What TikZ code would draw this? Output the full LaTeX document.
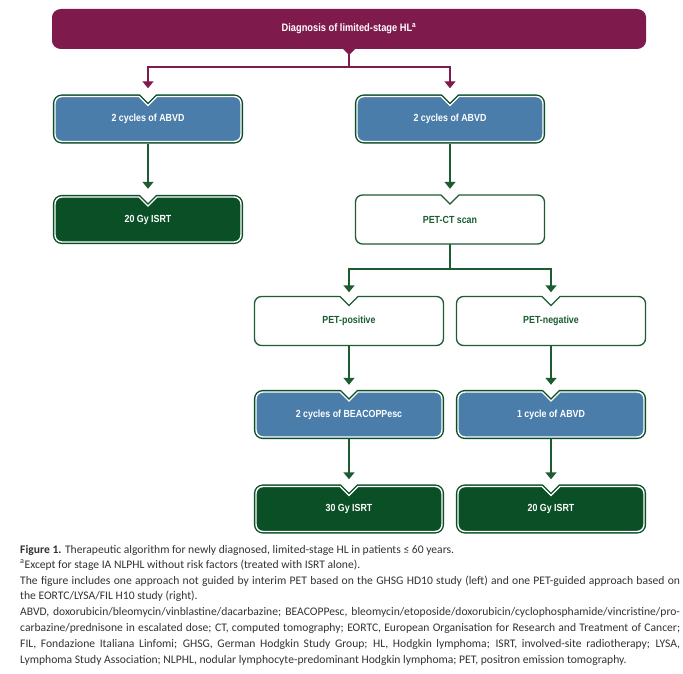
\documentclass[tikz,border=0pt]{standalone}
\usepackage{fontspec}
\setmainfont{Carlito}
\newfontfamily\boxfont[FakeStretch=0.86]{Liberation Sans}
\usetikzlibrary{arrows.meta}
\definecolor{maroon}{HTML}{7F1A4C}
\definecolor{boxblue}{HTML}{4B7DAA}
\definecolor{dkgreen}{HTML}{0B4F26}
\definecolor{lngreen}{HTML}{1C5C30}
\definecolor{captext}{HTML}{333333}
% notched rounded box path: cx, cy, half width, half height (corner radius 7, notch 9)
\newcommand\notchpath[4]{(#1-#3,#2) -- (#1-#3,#2-#4+7) .. controls (#1-#3,#2-#4+3.1) and (#1-#3+3.1,#2-#4) .. (#1-#3+7,#2-#4) -- (#1-9,#2-#4) -- (#1,#2-#4+9) -- (#1+9,#2-#4) -- (#1+#3-7,#2-#4) .. controls (#1+#3-3.1,#2-#4) and (#1+#3,#2-#4+3.1) .. (#1+#3,#2-#4+7) -- (#1+#3,#2+#4-7) .. controls (#1+#3,#2+#4-3.1) and (#1+#3-3.1,#2+#4) .. (#1+#3-7,#2+#4) -- (#1-#3+7,#2+#4) .. controls (#1-#3+3.1,#2+#4) and (#1-#3,#2+#4-3.1) .. (#1-#3,#2+#4-7) -- cycle}
% filled box with green/white border: name, cx, cy, fill, text
\newcommand\filledbox[5]{%
  \draw[dkgreen, line width=4.2pt] \notchpath{#2}{#3}{93}{22.5};
  \fill[#4] \notchpath{#2}{#3}{93}{22.5};
  \draw[white, line width=1.4pt] \notchpath{#2}{#3}{93}{22.5};
  \node[btext] (#1) at (#2,#3) {#5};}
% white box with green outline
\newcommand\whitebox[4]{%
  \draw[lngreen, line width=1.3pt, fill=white] \notchpath{#2}{#3}{94.5}{24.5};
  \node[wtext] (#1) at (#2,#3) {#4};}
\tikzset{
  btext/.style={text=white, font=\boxfont\bfseries\fontsize{10.3}{12}\selectfont, minimum width=190pt, minimum height=49pt, inner sep=0pt},
  wtext/.style={btext, text=lngreen},
  gline/.style={draw=lngreen, line width=1.4pt},
  garrow/.style={gline, -{Triangle[width=11pt,length=7pt]}},
  mline/.style={draw=maroon, line width=1.4pt},
  marrow/.style={mline, -{Triangle[width=11pt,length=7pt]}},
  captxt/.style={font=\fontsize{11.6}{13}\selectfont, text=captext, inner sep=0pt, anchor=base west},
}
\begin{document}
\begin{tikzpicture}[x=1pt,y=-1pt]
\useasboundingbox (0,0) rectangle (683,674);
\fill[white] (0,0) rectangle (683,674);
% top box
\fill[maroon] (52,29) -- (52,17) .. controls (52,12.5) and (56.5,9) .. (61,9) -- (637,9) .. controls (641.5,9) and (646,12.5) .. (646,17) -- (646,41) .. controls (646,45.5) and (641.5,49) .. (637,49) -- (355,49) -- (349,55) -- (343,49) -- (61,49) .. controls (56.5,49) and (52,45.5) .. (52,41) -- cycle;
\node[btext, font=\boxfont\bfseries\fontsize{10.8}{12}\selectfont, minimum width=594pt, minimum height=40pt] (top) at (349,29) {Diagnosis of limited-stage HL\textsuperscript{a}};
% boxes
\filledbox{abvdL}{148}{119}{boxblue}{2 cycles of ABVD}
\filledbox{isrtL}{148}{219.5}{dkgreen}{20 Gy ISRT}
\filledbox{abvdR}{450}{119}{boxblue}{2 cycles of ABVD}
\whitebox{petct}{450}{219.5}{PET-CT scan}
\whitebox{petpos}{349}{321}{PET-positive}
\whitebox{petneg}{551}{321}{PET-negative}
\filledbox{beac}{349}{414.5}{boxblue}{2 cycles of BEACOPPesc}
\filledbox{abvd1}{551}{414.5}{boxblue}{1 cycle of ABVD}
\filledbox{isrt30}{349}{509}{dkgreen}{30 Gy ISRT}
\filledbox{isrt20}{551}{509}{dkgreen}{20 Gy ISRT}
% connectors
\coordinate (j1) at (349,67);
\draw[mline] (top.south) -- (j1);
\draw[marrow] (j1) -| ([yshift=6pt]abvdL.north);
\draw[marrow] (j1) -| ([yshift=6pt]abvdR.north);
\draw[garrow] (abvdL.south) -- ([yshift=6pt]isrtL.north);
\draw[garrow] (abvdR.south) -- ([yshift=6pt]petct.north);
\coordinate (j2) at (450,269);
\draw[gline] (petct.south) -- (j2);
\draw[garrow] (j2) -| ([yshift=4pt]petpos.north);
\draw[garrow] (j2) -| ([yshift=4pt]petneg.north);
\draw[garrow] (petpos.south) -- ([yshift=5pt]beac.north);
\draw[garrow] (petneg.south) -- ([yshift=5pt]abvd1.north);
\draw[garrow] (beac.south) -- ([yshift=5pt]isrt30.north);
\draw[garrow] (abvd1.south) -- ([yshift=5pt]isrt20.north);
% caption
\node[captxt] (c1) at (20,553) {\textbf{Figure 1.} Therapeutic algorithm for newly diagnosed, limited-stage HL in patients ≤ 60 years.};
\node[captxt] (c2) at (20,568) {\textsuperscript{a}Except for stage IA NLPHL without risk factors (treated with ISRT alone).};
\node[captxt] (c3) at (20,584) {\makebox[660pt][s]{The figure includes one approach not guided by interim PET based on the GHSG HD10 study (left) and one PET-guided approach based on}};
\node[captxt] (c4) at (20,599) {the EORTC/LYSA/FIL H10 study (right).};
\node[captxt] (c5) at (20,615) {\makebox[660pt][s]{ABVD, doxorubicin/bleomycin/vinblastine/dacarbazine; BEACOPPesc, bleomycin/etoposide/doxorubicin/cyclophosphamide/vincristine/pro-}};
\node[captxt] (c6) at (20,631) {\makebox[660pt][s]{carbazine/prednisone in escalated dose; CT, computed tomography; EORTC, European Organisation for Research and Treatment of Cancer;}};
\node[captxt] (c7) at (20,647) {\makebox[660pt][s]{FIL, Fondazione Italiana Linfomi; GHSG, German Hodgkin Study Group; HL, Hodgkin lymphoma; ISRT, involved-site radiotherapy; LYSA,}};
\node[captxt] (c8) at (20,663) {Lymphoma Study Association; NLPHL, nodular lymphocyte-predominant Hodgkin lymphoma; PET, positron emission tomography.};
\end{tikzpicture}
\end{document}
